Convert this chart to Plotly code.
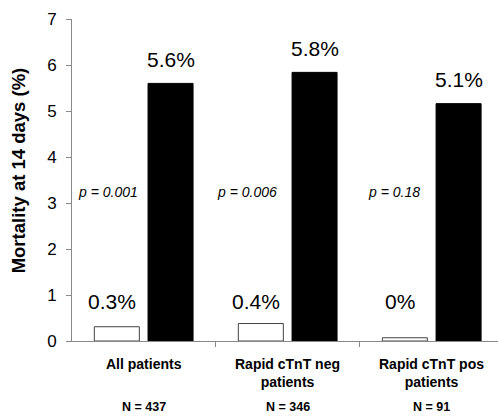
import plotly.graph_objects as go

categories = ["All patients", "Rapid cTnT neg<br>patients", "Rapid cTnT pos<br>patients"]
n_labels = ["N = 437", "N = 346", "N = 91"]
neg_values = [0.31, 0.38, 0.07]
neg_labels = ["0.3%", "0.4%", "0%"]
pos_values = [5.6, 5.84, 5.16]
pos_labels = ["5.6%", "5.8%", "5.1%"]
p_values = ["p = 0.001", "p = 0.006", "p = 0.18"]
y_ticks = [0, 1, 2, 3, 4, 5, 6, 7]

FONT = "Arial, Liberation Sans, sans-serif"
xs = list(range(len(categories)))
BAR_W = 0.3125
p_offsets = [-0.246, -0.285, -0.26]

fig = go.Figure()
fig.add_trace(go.Bar(x=xs, y=neg_values, width=BAR_W, offset=-0.342,
                     marker=dict(color="white", line=dict(color="#444", width=1)),
                     showlegend=False, hoverinfo="skip"))
fig.add_trace(go.Bar(x=xs, y=pos_values, width=BAR_W, offset=0.031,
                     marker=dict(color="black", line=dict(color="black", width=1)),
                     showlegend=False, hoverinfo="skip"))

ann = []
for i in xs:
    ann.append(dict(x=i + 0.1875, y=pos_values[i], text=pos_labels[i], showarrow=False,
                    yanchor="middle", yshift=24, font=dict(family=FONT, size=21, color="black")))
    ann.append(dict(x=i - 0.186, y=0.85, text=neg_labels[i], showarrow=False, xshift=-5,
                    yanchor="middle", font=dict(family=FONT, size=21, color="black")))
    ann.append(dict(x=i + p_offsets[i], y=3.23, text="<i>" + p_values[i] + "</i>", showarrow=False,
                    yanchor="middle", font=dict(family=FONT, size=14, color="black")))
    ann.append(dict(x=i, y=0, text="<b>" + categories[i] + "</b>", showarrow=False,
                    yanchor="top", yshift=-13, font=dict(family=FONT, size=14, color="black")))
    ann.append(dict(x=i, y=0, text="<b>" + n_labels[i] + "</b>", showarrow=False,
                    yanchor="middle", yshift=-66, font=dict(family=FONT, size=12.5, color="black")))

ann.append(dict(xref="paper", x=0, xshift=-54, y=3.71, text="<b>Mortality at 14 days (%)</b>",
                textangle=-90, showarrow=False, xanchor="center", yanchor="middle",
                font=dict(family=FONT, size=18.5, color="black")))

fig.update_layout(
    width=498, height=416,
    margin=dict(l=72, r=0, t=19, b=75),
    paper_bgcolor="white", plot_bgcolor="white",
    barmode="overlay",
    annotations=ann,
    xaxis=dict(range=[-0.497, 2.461], tickvals=[0.5, 1.5], showticklabels=False,
               ticks="outside", ticklen=5, tickcolor="#888", showline=True, linecolor="#888",
               linewidth=1, showgrid=False, zeroline=False, fixedrange=True),
    yaxis=dict(range=[0, 7], tickvals=y_ticks, ticks="outside", ticklen=5, tickcolor="#888",
               showline=True, linecolor="#888", linewidth=1, showgrid=False, zeroline=False,
               tickfont=dict(family=FONT, size=17, color="black"), ticklabelstandoff=6,
               fixedrange=True),
)

fig.write_html("out.html", config={"displayModeBar": False, "staticPlot": True},
               post_script="document.body.style.margin='0';document.body.style.overflow='hidden';")
